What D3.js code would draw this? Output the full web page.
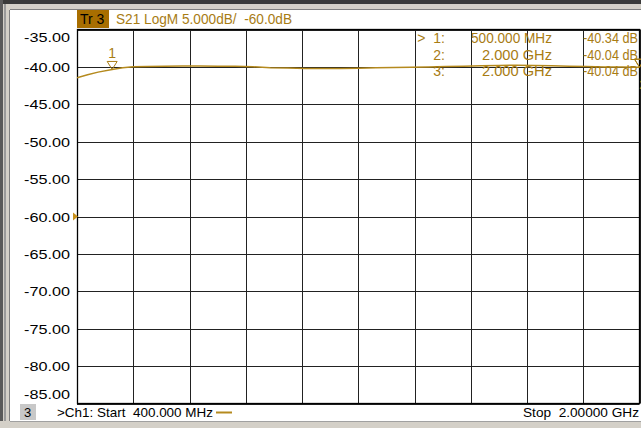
<!DOCTYPE html>
<html><head><meta charset="utf-8">
<script src="https://cdn.jsdelivr.net/npm/d3@7"></script>
<style>
html,body{margin:0;padding:0;background:#d4d0c8;overflow:hidden}
svg{display:block;font-family:"Liberation Sans",Arial,sans-serif}
</style></head><body>
<svg id="c" width="641" height="428"></svg>
<script>
// Data
const freqMHz = [400, 430, 460, 500, 530, 560, 600, 650, 700, 750, 800, 850, 900, 950, 1000, 1050, 1100, 1150, 1200, 1250, 1300, 1350, 1400, 1450, 1500, 1550, 1600, 1650, 1700, 1750, 1800, 1850, 1900, 1950, 1990, 2000];
const s21dB  = [-41.45, -41.05, -40.7, -40.34, -40.1, -39.98, -39.95, -39.9, -39.88, -39.88, -39.9, -39.92, -39.98, -40.1, -40.15, -40.2, -40.22, -40.2, -40.18, -40.12, -40.08, -40.05, -40.0, -39.95, -39.9, -39.85, -39.8, -39.78, -39.8, -39.85, -39.9, -39.95, -40.0, -40.02, -40.04, -40.04];
const yTicks = [-35, -40, -45, -50, -55, -60, -65, -70, -75, -80, -85];
const xDivs = [400, 560, 720, 880, 1040, 1200, 1360, 1520, 1680, 1840, 2000];
const markers = [
  {id: "1", f: 500, v: -40.34, freqLabel: "500.000 MHz", active: true},
  {id: "2", f: 2000, v: -40.04, freqLabel: "2.000 GHz", active: false},
  {id: "3", f: 2000, v: -40.04, freqLabel: "2.000 GHz", active: false}
];
const refLevel = -60;
const title = "S21 LogM 5.000dB/  -60.0dB";
const statusStart = ">Ch1: Start  400.000 MHz";
const statusStop = "Stop  2.00000 GHz";

const svg = d3.select("#c");
const W = 641, H = 428;
const gold = "#a87c14", trace = "#b58a1e";
const L = 77, R = 639.5, T = 29.5, B = 403.5;

// window chrome
svg.append("rect").attr("x",0).attr("y",0).attr("width",W).attr("height",H).attr("fill","#d4d0c8");
svg.append("rect").attr("x",0).attr("y",0).attr("width",W).attr("height",4).attr("fill","#3a3a3a");
svg.append("rect").attr("x",0).attr("y",0).attr("width",3).attr("height",H).attr("fill","#5a5a5a");
svg.append("rect").attr("x",4).attr("y",4).attr("width",2).attr("height",H).attr("fill","#9a9a9a");
svg.append("rect").attr("x",10).attr("y",10).attr("width",W-10).attr("height",411).attr("fill","#ffffff");
svg.append("line").attr("x1",10).attr("x2",W).attr("y1",9.5).attr("y2",9.5).attr("stroke","#808080");
svg.append("line").attr("x1",9.5).attr("x2",9.5).attr("y1",10).attr("y2",421).attr("stroke","#808080");

const x = d3.scaleLinear().domain([400, 2000]).range([L, R]);
const y = d3.scaleLinear().domain([-85, -35]).range([B, T]);

// grid
const g = svg.append("g");
g.selectAll("line.v").data(xDivs).enter().append("line")
  .attr("x1", d => Math.round(x(d)) + 0.5).attr("x2", d => Math.round(x(d)) + 0.5)
  .attr("y1", T).attr("y2", B).attr("stroke", "#222").attr("stroke-width", 1);
g.selectAll("line.h").data(yTicks).enter().append("line")
  .attr("x1", L).attr("x2", R)
  .attr("y1", d => Math.round(y(d)) + 0.5).attr("y2", d => Math.round(y(d)) + 0.5)
  .attr("stroke", "#222").attr("stroke-width", 1);
svg.append("rect").attr("x", L + 0.5).attr("y", T).attr("width", R - L - 0.5).attr("height", B - T)
  .attr("fill", "none").attr("stroke", "#000").attr("stroke-width", 1.3);

// y labels
svg.selectAll("text.yl").data(yTicks).enter().append("text")
  .attr("x", 70).attr("text-anchor", "end")
  .attr("y", d => d === -35 ? y(d) + 12 : d === -85 ? y(d) - 5 : y(d) + 5)
  .attr("font-size", 13.5).attr("fill", "#000").attr("textLength", 46).attr("lengthAdjust","spacingAndGlyphs")
  .text(d => d.toFixed(2));

// reference marker
svg.append("path").attr("d", d3.line()([[L-4, y(refLevel)-4],[L+1, y(refLevel)],[L-4, y(refLevel)+4]]) + "Z").attr("fill", "#c8901a");

// title
svg.append("rect").attr("x", 77).attr("y", 10).attr("width", 32).attr("height", 18).attr("fill", "#a86e00");
svg.append("text").attr("x", 80).attr("y", 24).attr("font-size", 14).attr("fill", "#000").text("Tr 3");
svg.append("text").attr("x", 116).attr("y", 24).attr("font-size", 14).attr("fill", gold)
  .attr("textLength", 176).attr("lengthAdjust","spacingAndGlyphs").style("white-space","pre").text(title);

// trace
svg.append("clipPath").attr("id","pc").append("rect").attr("x", L).attr("y", T).attr("width", W - L).attr("height", B - T);
const pts = freqMHz.map((f, i) => [x(f), y(s21dB[i])]);
svg.append("path").attr("clip-path","url(#pc)")
  .attr("d", d3.line()(pts)).attr("fill","none").attr("stroke", trace).attr("stroke-width", 1.5);

// markers (2 and 3 sit at the right edge and are mostly clipped)
const mg = svg.append("g").attr("clip-path","url(#pc)");
markers.forEach((m, i) => {
  const mx = x(m.f), my = y(m.v);
  mg.append("path").attr("d", `M${mx-5},${my-8}L${mx+5},${my-8}L${mx},${my}Z`)
    .attr("fill","none").attr("stroke", gold).attr("stroke-width", 1);
  if (i === 0) {
    mg.append("text").attr("x", mx).attr("y", my - 11)
      .attr("text-anchor","middle").attr("font-size", 14).attr("fill", gold).text(m.id);
  }
});
// stacked, clipped marker numbers at right edge
mg.append("text").attr("x", x(2000) + 3).attr("y", y(-40.04) + 22)
  .attr("text-anchor","middle").attr("font-size", 12).attr("fill", gold).text("2");

// marker readout
const rows = markers.map((m, i) => ({...m, yy: 43 + i * 16.5}));
svg.selectAll("text.mk").data(rows).enter().append("text")
  .attr("x", 445).attr("y", d => d.yy).attr("text-anchor","end").attr("font-size", 14).attr("fill", gold)
  .style("white-space","pre").text(d => (d.active ? ">  " : "") + d.id + ":");
svg.selectAll("text.mf").data(rows).enter().append("text")
  .attr("x", 552).attr("y", d => d.yy).attr("text-anchor","end").attr("font-size", 14).attr("fill", gold)
  .attr("textLength", d => d.freqLabel.length > 10 ? 81 : 70).attr("lengthAdjust","spacingAndGlyphs")
  .text(d => d.freqLabel);
svg.selectAll("text.mv").data(rows).enter().append("text")
  .attr("x", 638).attr("y", d => d.yy).attr("text-anchor","end").attr("font-size", 14).attr("fill", gold)
  .attr("textLength", 55).attr("lengthAdjust","spacingAndGlyphs")
  .text(d => d.v.toFixed(2) + " dB");

// status bar
svg.append("rect").attr("x", 20).attr("y", 404).attr("width", 16).attr("height", 16).attr("fill", "#c8c8c8");
svg.append("text").attr("x", 24).attr("y", 417).attr("font-size", 13).attr("fill","#000").text("3");
svg.append("text").attr("x", 57).attr("y", 417).attr("font-size", 13.5).attr("fill","#000")
  .attr("textLength", 156).attr("lengthAdjust","spacingAndGlyphs").style("white-space","pre").text(statusStart);
svg.append("line").attr("x1", 216).attr("x2", 232).attr("y1", 412.5).attr("y2", 412.5).attr("stroke", trace).attr("stroke-width", 2);
svg.append("text").attr("x", 639).attr("y", 417).attr("text-anchor","end").attr("font-size", 13.5).attr("fill","#000")
  .attr("textLength", 116).attr("lengthAdjust","spacingAndGlyphs").style("white-space","pre").text(statusStop);
svg.append("rect").attr("x", 0).attr("y", 421).attr("width", W).attr("height", 7).attr("fill","#d4d0c8");
svg.append("line").attr("x1", 10).attr("x2", W).attr("y1", 421.5).attr("y2", 421.5).attr("stroke","#a0a0a0");
</script>
</body></html>
